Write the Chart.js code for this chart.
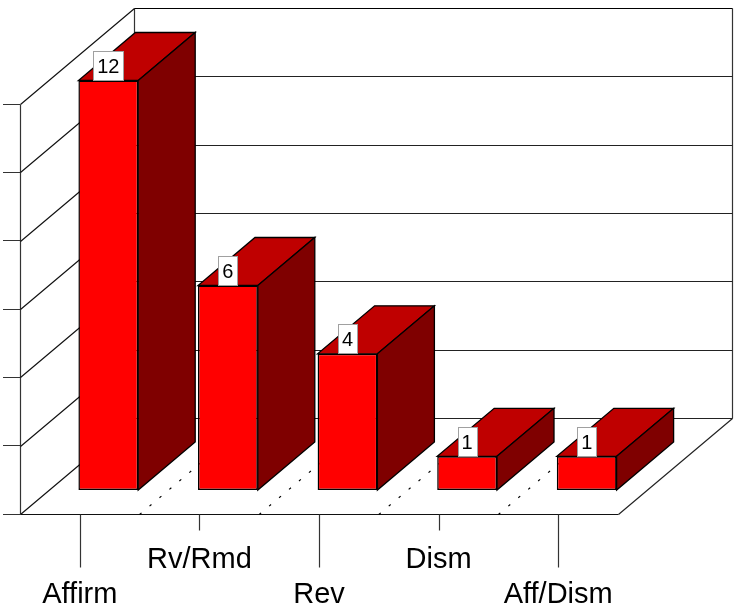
<!DOCTYPE html>
<html>
<head>
<meta charset="utf-8">
<title>Dispositions</title>
<script src="https://cdn.jsdelivr.net/npm/chart.js@4/dist/chart.umd.min.js"></script>
<style>
  html, body { margin: 0; padding: 0; background: #fff; }
  canvas { display: block; }
</style>
</head>
<body>
<canvas id="chart" width="734" height="607"></canvas>
<script>
const categories = ['Affirm', 'Rv/Rmd', 'Rev', 'Dism', 'Aff/Dism'];
const counts = [12, 6, 4, 1, 1];
const yMax = 12;
const yStep = 2;

// oblique projection of the floor depth
const depthX = 114;
const depthY = -96;
const barFront = 0.25;
const barDepth = 0.5;

function line(ctx, x1, y1, x2, y2, color) {
    ctx.strokeStyle = color;
    ctx.beginPath();
    ctx.moveTo(x1, y1);
    ctx.lineTo(x2, y2);
    ctx.stroke();
}

function face(ctx, pts, fill) {
    ctx.fillStyle = fill;
    ctx.strokeStyle = '#000';
    ctx.beginPath();
    pts.forEach((p, i) => i ? ctx.lineTo(p[0], p[1]) : ctx.moveTo(p[0], p[1]));
    ctx.closePath();
    ctx.fill();
    ctx.stroke();
}

const box3d = {
    id: 'box3d',
    beforeDatasetsDraw(chart) {
        const ctx = chart.ctx;
        const { left, right, top, bottom } = chart.chartArea;
        const x = chart.scales.x;
        const y = chart.scales.y;
        const l = left + 0.5;
        const r = right + 0.5;
        const b = bottom + 0.5;
        const t = top + 0.5;

        ctx.save();
        ctx.lineWidth = 1.2;

        // walls and floor
        line(ctx, l, t, l, b, '#333');
        line(ctx, l + depthX, t + depthY, l + depthX, b + depthY, '#333');
        line(ctx, r + depthX, t + depthY, r + depthX, b + depthY, '#333');
        line(ctx, l, b, r, b, '#111');
        line(ctx, r, b, r + depthX, b + depthY, '#222');
        for (let v = 0; v <= yMax; v += yStep) {
            const py = Math.round(y.getPixelForValue(v)) + 0.5;
            line(ctx, l, py, l + depthX, py + depthY, '#111');
            line(ctx, l + depthX, py + depthY, r + depthX, py + depthY, v === yMax ? '#000' : '#222');
        }

        // ticks under the floor, long ones for the lower label row
        categories.forEach((c, i) => {
            const px = Math.round(x.getPixelForValue(i)) + 0.5;
            line(ctx, px, b, px, b + (i % 2 ? 16 : 53), '#333');
        });

        // dotted floor lines between the categories
        ctx.lineWidth = 1.2;
        ctx.setLineDash([2.5, 10.5]);
        for (let i = 1; i < categories.length; i++) {
            const px = (x.getPixelForValue(i - 1) + x.getPixelForValue(i)) / 2;
            line(ctx, px, b, px + depthX, b + depthY, '#000');
        }
        ctx.setLineDash([]);
        ctx.lineWidth = 1.3;

        // bars stand a quarter of the way back on the floor
        ctx.translate(depthX * barFront, depthY * barFront + 0.5);
        const dx = depthX * barDepth;
        const dy = depthY * barDepth;
        chart.getDatasetMeta(0).data.forEach(bar => {
            const x1 = bar.x - bar.width / 2;
            const x2 = bar.x + bar.width / 2;
            face(ctx, [[x1, bar.y], [x2, bar.y], [x2 + dx, bar.y + dy], [x1 + dx, bar.y + dy]], '#bf0000');
            face(ctx, [[x2, bar.y], [x2, bar.base], [x2 + dx, bar.base + dy], [x2 + dx, bar.y + dy]], '#7f0000');
        });
    },
    afterDatasetsDraw(chart) {
        const ctx = chart.ctx;
        ctx.restore();

        // value labels sit on the front top edge of each bar
        ctx.save();
        ctx.font = '20px "Liberation Sans", Arial, sans-serif';
        ctx.textAlign = 'center';
        ctx.textBaseline = 'middle';
        chart.getDatasetMeta(0).data.forEach((bar, i) => {
            const text = String(counts[i]);
            const w = Math.round(ctx.measureText(text).width) + 8;
            const cx = bar.x + depthX * barFront;
            const by = bar.y + depthY * barFront;
            const bx = Math.round(cx - w / 2) + 0.5;
            const tp = Math.round(by) - 29 + 0.5;
            ctx.fillStyle = '#fff';
            ctx.strokeStyle = '#a0a0a0';
            ctx.lineWidth = 1;
            ctx.fillRect(bx, tp, w, 29);
            ctx.strokeRect(bx, tp, w, 29);
            ctx.fillStyle = '#000';
            ctx.fillText(text, cx, tp + 15.5);
        });
        ctx.restore();
    }
};

new Chart(document.getElementById('chart'), {
    type: 'bar',
    data: {
        labels: categories,
        datasets: [{
            data: counts,
            backgroundColor: '#ff0000',
            borderColor: '#000',
            borderWidth: 1.5,
            borderSkipped: false,
            barPercentage: 0.5,
            categoryPercentage: 1,
            clip: false
        }]
    },
    options: {
        responsive: false,
        animation: false,
        layout: { padding: { left: 3, right: 116, top: 104, bottom: 0 } },
        plugins: { legend: { display: false }, tooltip: { enabled: false } },
        scales: {
            x: {
                grid: { display: false },
                border: { display: false },
                afterFit: s => { s.height = 93; },
                ticks: {
                    color: '#000',
                    font: { family: '"Liberation Sans", Arial, sans-serif', size: 29, lineHeight: 1.19 },
                    padding: 21,
                    maxRotation: 0,
                    autoSkip: false,
                    // every other label drops to the second row
                    callback: function (v, i) {
                        const text = this.getLabelForValue(v);
                        return i % 2 ? text : ['', text];
                    }
                }
            },
            y: {
                min: 0,
                max: yMax,
                afterFit: s => { s.width = 17; },
                grid: { drawOnChartArea: false, tickLength: 17, tickColor: '#333', lineWidth: 1 },
                border: { display: false },
                ticks: { display: false, stepSize: yStep }
            }
        }
    },
    plugins: [box3d]
});
</script>
</body>
</html>
